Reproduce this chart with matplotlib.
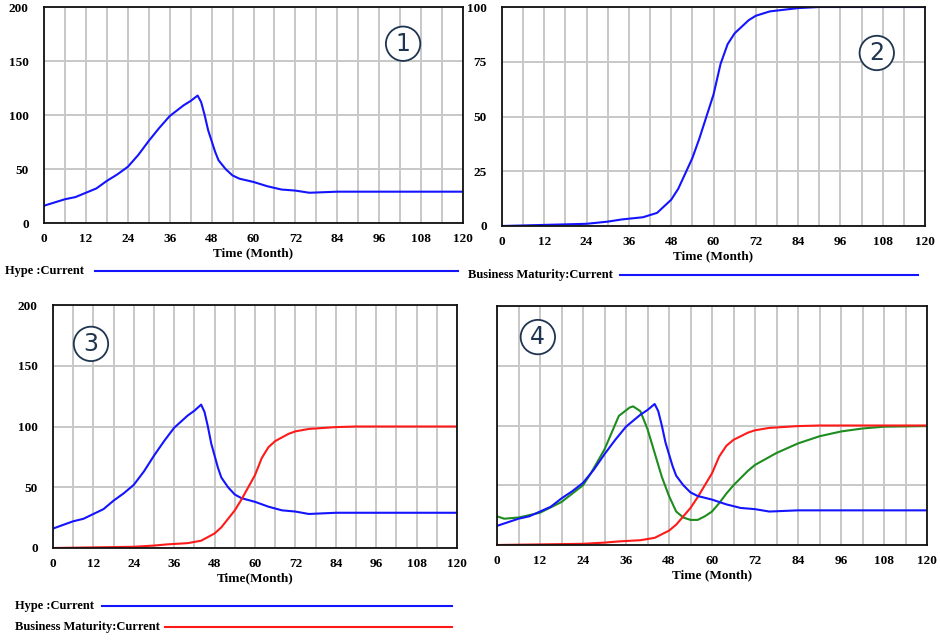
import matplotlib
matplotlib.use("Agg")
import matplotlib.pyplot as plt
from matplotlib.lines import Line2D

# 時間軸 (月)
months = list(range(0, 121, 12))

# Hype : Current
hype_t = [0, 3, 6, 9, 12, 15, 18, 21, 24, 27, 30, 33, 36, 40, 42, 44, 45, 46, 47, 48, 49, 50,
          52, 54, 56, 60, 64, 68, 72, 76, 84, 96, 120]
hype = [16, 19, 22, 24, 28, 32, 39, 45, 52, 63, 76, 88, 99, 109, 113, 118, 112, 100, 86, 76, 66, 58,
        50, 44, 41, 38, 34, 31, 30, 28, 29, 29, 29]

# Business Maturity : Current
bm_t = [0, 24, 30, 34, 40, 44, 48, 50, 52, 54, 56, 58, 60, 62, 64, 66, 68, 70, 72, 76, 84, 90, 120]
bm = [0, 1, 2, 3, 4, 6, 12, 17, 24, 31, 40, 50, 60, 74, 83, 88, 91, 94, 96, 98, 99.5, 100, 100]

# 別の実行 (パネル4の緑線)
green_t = [0, 2, 6, 12, 18, 24, 26, 30, 32, 34, 37, 38, 40, 42, 44, 46, 48, 50, 52, 54, 56, 58,
           60, 62, 64, 66, 70, 72, 78, 84, 90, 96, 102, 108, 120]
green = [24, 22, 23, 27, 36, 50, 59, 80, 94, 108, 115, 116, 112, 97, 77, 57, 41, 28, 23, 21, 21, 24,
         28, 35, 43, 50, 62, 67, 77, 85, 91, 95, 97.5, 99, 99.5]

W, H = 940, 640
BLUE = "#1414ff"
RED = "#ff1a1a"
GREEN = "#1f8c1f"
FONT = "Liberation Serif"

fig = plt.figure(figsize=(W / 100, H / 100), dpi=100)


def box(l, t, r, b):
    # ピクセル座標 → figure座標
    return [l / W, 1 - b / H, (r - l) / W, (b - t) / H]


def setup(ax, ymax, ystep, xlabel, ylabels=True):
    ax.set_xlim(0, 120)
    ax.set_ylim(0, ymax)
    ax.set_xticks(range(0, 121, 6), minor=True)
    ax.set_xticks(months)
    ax.set_xticklabels([str(m) for m in months], fontfamily=FONT, fontsize=9.5, fontweight="bold")
    ax.set_yticks(range(0, ymax + 1, ystep))
    if ylabels:
        ax.set_yticklabels([str(v) for v in range(0, ymax + 1, ystep)],
                           fontfamily=FONT, fontsize=9.5, fontweight="bold")
    else:
        ax.set_yticklabels([])
    ax.grid(True, which="both", color="#c8c8c8", linewidth=1.4)
    ax.set_axisbelow(True)
    ax.tick_params(which="both", length=0, pad=7)
    ax.tick_params(axis="y", pad=11)
    for s in ax.spines.values():
        s.set_linewidth(1.3)
        s.set_color("#111111")
    ax.set_xlabel(xlabel, fontfamily=FONT, fontsize=9.5, fontweight="bold", labelpad=2)


def badge(ax, num, x, y):
    ax.text(x, y, num, transform=ax.transAxes, ha="center", va="center",
            fontsize=17, color="#1f3550", family="DejaVu Sans",
            bbox=dict(boxstyle="circle,pad=0.22", fc="white", ec="#1f3550", lw=1.3))


def legend_item(label, y, x0, x1, color, tx):
    fig.text(tx / W, 1 - y / H, label, fontfamily=FONT, fontsize=9, fontweight="bold",
             ha="left", va="center")
    fig.add_artist(Line2D([x0 / W, x1 / W], [1 - y / H, 1 - y / H], color=color, lw=1.5))


# パネル1
ax1 = fig.add_axes(box(44, 7, 463, 223))
setup(ax1, 200, 50, "Time (Month)")
ax1.plot(hype_t, hype, color=BLUE, lw=1.5)
badge(ax1, "1", 0.857, 0.83)

# パネル2
ax2 = fig.add_axes(box(502, 7, 925, 226))
setup(ax2, 100, 25, "Time (Month)")
ax2.plot(bm_t, bm, color=BLUE, lw=1.5)
badge(ax2, "2", 0.886, 0.79)

legend_item("Hype :Current", 271, 95, 458, BLUE, 5)
legend_item("Business Maturity:Current", 275, 620, 918, BLUE, 468)

# パネル3
ax3 = fig.add_axes(box(53, 305, 457, 548))
setup(ax3, 200, 50, "Time(Month)")
ax3.plot(hype_t, hype, color=BLUE, lw=1.5)
ax3.plot(bm_t, bm, color=RED, lw=1.5)
badge(ax3, "3", 0.094, 0.84)

legend_item("Hype :Current", 606, 102, 452, BLUE, 15)
legend_item("Business Maturity:Current", 627, 165, 452, RED, 15)

# パネル4
ax4 = fig.add_axes(box(497, 306, 927, 545))
setup(ax4, 200, 50, "Time (Month)", ylabels=False)
ax4.plot(green_t, green, color=GREEN, lw=1.5)
ax4.plot(bm_t, bm, color=RED, lw=1.5)
ax4.plot(hype_t, hype, color=BLUE, lw=1.5)
badge(ax4, "4", 0.095, 0.87)

fig.savefig("out.png", dpi=100)
